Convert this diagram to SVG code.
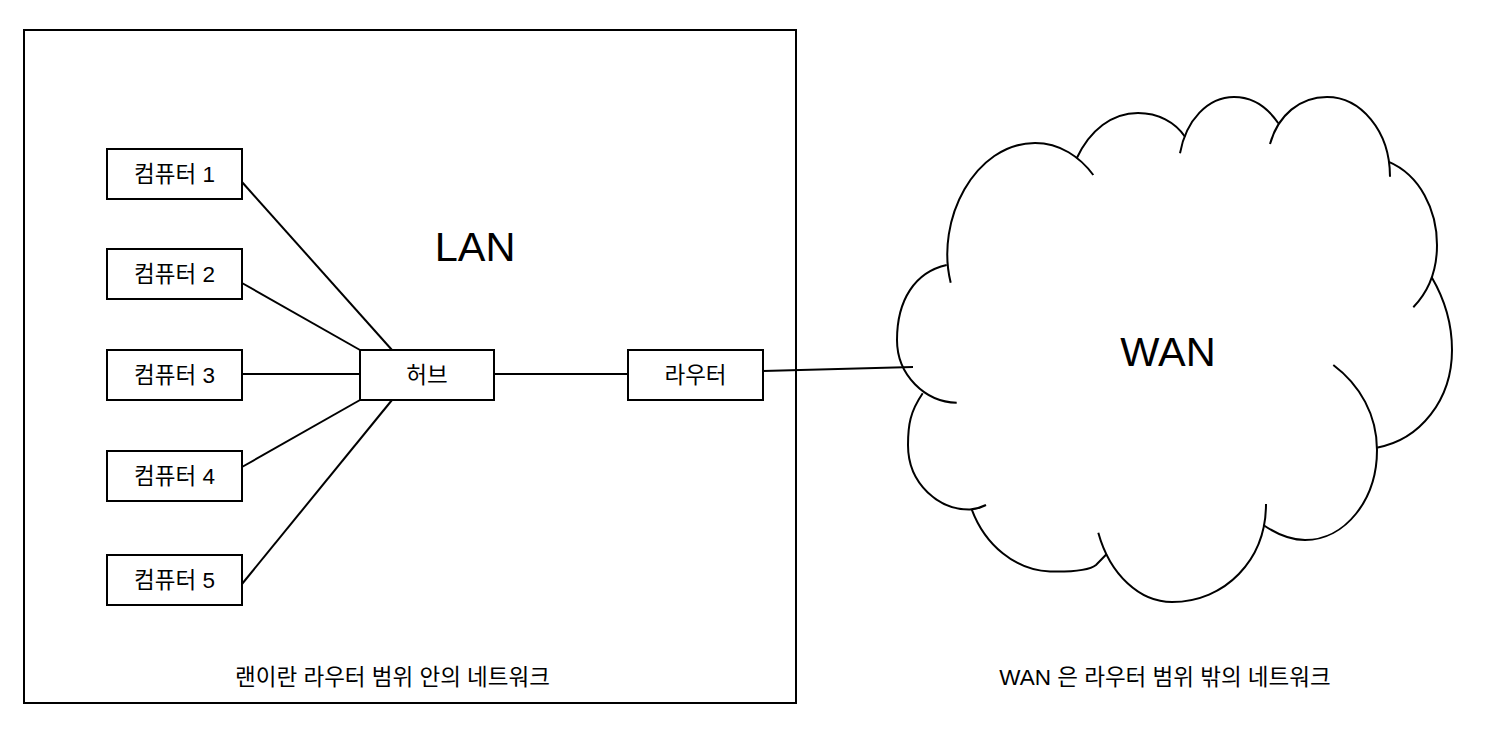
<svg xmlns="http://www.w3.org/2000/svg" width="1485" height="733" viewBox="0 0 1485 733">
<style>
  .box { fill: #ffffff; stroke: #000000; stroke-width: 2; }
  .frame { fill: none; stroke: #000000; stroke-width: 2; }
  .conn { fill: none; stroke: #000000; stroke-width: 2; }
  .cloud { fill: none; stroke: #000000; stroke-width: 2; stroke-linecap: butt; }
  .lbl { font-family: "Liberation Sans", "Noto Sans CJK KR", sans-serif; font-size: 22.5px; fill: #000000; text-anchor: middle; }
  .big { font-family: "Liberation Sans", "Noto Sans CJK KR", sans-serif; font-size: 41.5px; fill: #000000; text-anchor: middle; }
</style>
<rect width="1485" height="733" fill="#ffffff"/>
<g id="lan-frame">
  <rect class="frame" x="24" y="30" width="772" height="673"/>
  <text class="big" x="475" y="261">LAN</text>
  <text class="lbl" x="392.5" y="685" font-size="23">랜이란 라우터 범위 안의 네트워크</text>
</g>
<g id="connectors">
  <line class="conn" x1="242" y1="182" x2="392" y2="350"/>
  <line class="conn" x1="242" y1="283" x2="360" y2="350"/>
  <line class="conn" x1="242" y1="374" x2="360" y2="374"/>
  <line class="conn" x1="242" y1="467" x2="360" y2="400"/>
  <line class="conn" x1="242" y1="584" x2="392" y2="400"/>
  <line class="conn" x1="494" y1="374" x2="628" y2="374"/>
  <line class="conn" x1="763" y1="371" x2="913" y2="367"/>
</g>
<g id="computer1">
  <rect class="box" x="107" y="149" width="135" height="50"/>
  <text class="lbl" x="174.5" y="182">컴퓨터 1</text>
</g>
<g id="computer2">
  <rect class="box" x="107" y="249" width="135" height="50"/>
  <text class="lbl" x="174.5" y="282">컴퓨터 2</text>
</g>
<g id="computer3">
  <rect class="box" x="107" y="350" width="135" height="50"/>
  <text class="lbl" x="174.5" y="383">컴퓨터 3</text>
</g>
<g id="computer4">
  <rect class="box" x="107" y="451" width="135" height="50"/>
  <text class="lbl" x="174.5" y="484">컴퓨터 4</text>
</g>
<g id="computer5">
  <rect class="box" x="107" y="555" width="135" height="50"/>
  <text class="lbl" x="174.5" y="588">컴퓨터 5</text>
</g>
<g id="hub">
  <rect class="box" x="360" y="350" width="134" height="50"/>
  <text class="lbl" x="427" y="383">허브</text>
</g>
<g id="router">
  <rect class="box" x="628" y="350" width="135" height="50"/>
  <text class="lbl" x="695.5" y="383">라우터</text>
</g>
<g id="wan">
  <path class="cloud" d="M946.7,265 C915,272 897,300 897,340 C897,375 925,402 956.7,402.7"/>
  <path class="cloud" d="M922.7,393.3 C910,412 908,425 908,445 C908,485 940,510 970,509.5 C977,509 982,507 986,505"/>
  <path class="cloud" d="M971.7,509.3 C985,545 1015,570 1050,571.5 C1075,572 1090,570 1096,565 L1106.7,554"/>
  <path class="cloud" d="M1098.3,532.7 C1110,575 1140,602 1172,602 C1225,602 1266,560 1266,504"/>
  <path class="cloud" d="M1333.3,365 C1360,385 1377,415 1377,450 C1377,500 1345,540 1305,540 C1290,540 1275,533 1263.3,525"/>
  <path class="cloud" d="M1431.7,277.3 C1445,300 1452,325 1452,350 C1452,400 1420,440 1376.7,447.7"/>
  <path class="cloud" d="M1388.3,161.7 C1420,175 1437,210 1437,245 C1437,270 1428,292 1413.3,307.3"/>
  <path class="cloud" d="M1270,144 C1278,115 1300,97 1327,97 C1360,97 1390,130 1390,176.7"/>
  <path class="cloud" d="M1180,153.3 C1186,120 1208,97 1234,97 C1253,97 1268,108 1278.3,123.3"/>
  <path class="cloud" d="M1076.7,158.3 C1090,130 1112,113 1138,113 C1158,113 1175,122 1185,136.7"/>
  <path class="cloud" d="M950.7,282.7 C935,220 975,143 1035,143 C1060,143 1080,157 1093.3,175"/>
  <text class="big" x="1168" y="366">WAN</text>
  <text class="lbl" x="1165" y="685" font-size="23">WAN 은 라우터 범위 밖의 네트워크</text>
</g>
</svg>
